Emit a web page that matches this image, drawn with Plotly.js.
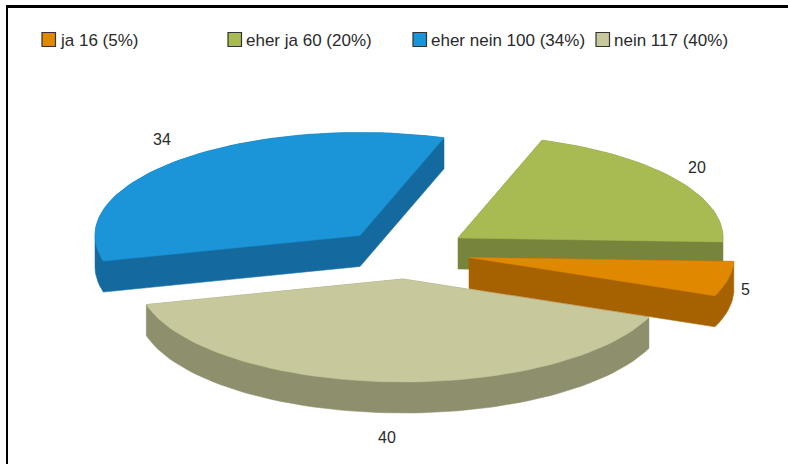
<!DOCTYPE html>
<html>
<head>
<meta charset="utf-8">
<script src="https://cdn.plot.ly/plotly-3.0.1.min.js"></script>
<style>html,body{margin:0;padding:0;background:#fff}#chart{width:788px;height:464px}</style>
</head>
<body>
<div id="chart"></div>
<script>
// Survey answers, in pie order
const categories = ['ja', 'eher ja', 'eher nein', 'nein'];
const counts = [16, 60, 100, 117];
const percents = [5, 20, 34, 40];

const topColors = ['#e08900', '#a8ba52', '#1b94d8', '#c7c99c'];
const sideColors = ['#a66200', '#76843c', '#146a9e', '#8e8f6c'];

// Wedge tips of the exploded pie, on a 788x464 axis grid
const tipX = [469, 458, 360, 403];
const tipY = [257.5, 238, 235.5, 279];
const labelX = [745, 697, 162, 387];
const labelY = [289, 167, 139, 437];
const legendX = [42, 228, 413, 596];

// Oblique projection of the pie
const RX = 265, RY = 103, DEPTH = 31, START_DEG = -2.2;

const total = counts.reduce((a, b) => a + b, 0);

// Sweep order going clockwise from the top-right boundary: eher ja, ja, nein, eher nein
const sweepOrder = [1, 0, 3, 2];
const spans = {};
let cursor = START_DEG + counts[1] / total * 360;
sweepOrder.forEach(i => {
  const sweep = counts[i] / total * 360;
  spans[i] = [cursor, cursor - sweep];
  cursor -= sweep;
});

function outline(i) {
  const [a0, a1] = spans[i];
  const n = Math.max(8, Math.ceil(Math.abs(a0 - a1) / 2));
  const pts = [[tipX[i], tipY[i]]];
  for (let k = 0; k <= n; k++) {
    const t = (a0 + (a1 - a0) * k / n) * Math.PI / 180;
    pts.push([tipX[i] + RX * Math.cos(t), tipY[i] - RY * Math.sin(t)]);
  }
  return pts;
}

// Convex hull: a wedge under 180 degrees extruded downward is convex
function hull(points) {
  const p = points.slice().sort((a, b) => a[0] - b[0] || a[1] - b[1]);
  const cross = (o, a, b) => (a[0] - o[0]) * (b[1] - o[1]) - (a[1] - o[1]) * (b[0] - o[0]);
  const half = list => {
    const h = [];
    list.forEach(q => {
      while (h.length >= 2 && cross(h[h.length - 2], h[h.length - 1], q) <= 0) h.pop();
      h.push(q);
    });
    h.pop();
    return h;
  };
  return half(p).concat(half(p.slice().reverse()));
}

function polygon(points, color, name) {
  const closed = points.concat([points[0]]);
  return {x: closed.map(q => q[0]), y: closed.map(q => q[1]), mode: 'lines', fill: 'toself',
    fillcolor: color, line: {color, width: 0.5}, name, hoverinfo: 'name', showlegend: false};
}

// Back-to-front painting order
const paintOrder = [2, 1, 3, 0];
const traces = [];
paintOrder.forEach(i => {
  const top = outline(i);
  const solid = hull(top.concat(top.map(q => [q[0], q[1] + DEPTH])));
  traces.push(polygon(solid, sideColors[i], categories[i]));
  traces.push(polygon(top, topColors[i], categories[i]));
});

const font = {family: 'Liberation Sans, Arial, sans-serif', color: '#2a2a2a'};
const annotations = categories.map((c, i) => ({
  x: legendX[i] + 16, y: 40, xanchor: 'left', yanchor: 'middle', showarrow: false,
  text: `${c} ${counts[i]} (${percents[i]}%)`, font: {...font, size: 17}
})).concat(percents.map((p, i) => ({
  x: labelX[i], y: labelY[i], xanchor: 'center', yanchor: 'middle', showarrow: false,
  text: String(p), font: {...font, size: 16}
})));

const shapes = categories.map((c, i) => ({
  type: 'rect', x0: legendX[i], x1: legendX[i] + 13.5, y0: 32.5, y1: 46.5,
  fillcolor: topColors[i], line: {color: '#333', width: 1.2}
}));
// Chart frame
shapes.push({type: 'line', x0: 7, x1: 7, y0: 6, y1: 464, line: {color: '#000', width: 2}});
shapes.push({type: 'line', x0: 6, x1: 788, y0: 6.5, y1: 6.5, line: {color: '#000', width: 3}});

const hidden = {visible: false, fixedrange: true};
Plotly.newPlot('chart', traces, {
  width: 788, height: 464,
  margin: {l: 0, r: 0, t: 0, b: 0},
  paper_bgcolor: '#fff', plot_bgcolor: '#fff',
  xaxis: {...hidden, range: [0, 788]},
  yaxis: {...hidden, range: [464, 0]},
  annotations, shapes, showlegend: false
}, {displayModeBar: false, staticPlot: true});
</script>
</body>
</html>
